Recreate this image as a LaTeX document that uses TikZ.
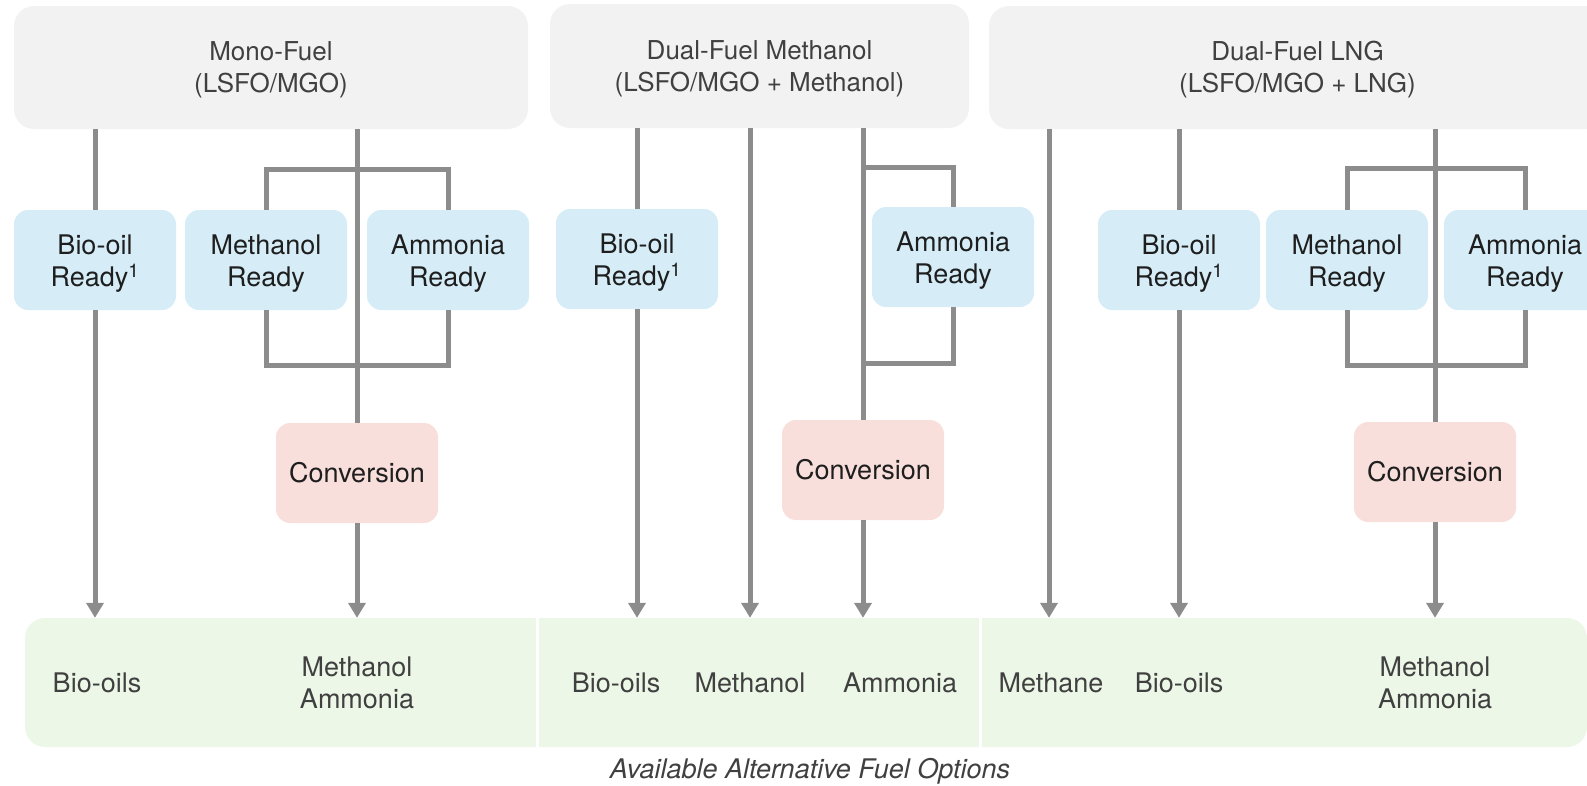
\documentclass[tikz,border=0pt]{standalone}
\usepackage{fontspec}
\setmainfont{TeX Gyre Heros}
\usetikzlibrary{arrows.meta}
\definecolor{topfill}{HTML}{F2F2F2}
\definecolor{bluefill}{HTML}{D6EDF8}
\definecolor{pinkfill}{HTML}{F9DFDB}
\definecolor{greenfill}{HTML}{ECF7E7}
\definecolor{linegray}{HTML}{8C8C8C}
\definecolor{txtdark}{HTML}{1E1E1E}
\definecolor{txtgray}{HTML}{404040}
\newcommand{\twoln}[3][0pt]{\raisebox{#1}[\height][\depth]{\begin{tabular}{@{}c@{}}#2\\#3\end{tabular}}}
\begin{document}
\begin{tikzpicture}[x=1pt,y=-1pt,
  basefont/.style={font=\fontsize{27pt}{32pt}\selectfont},
  topfont/.style={font=\fontsize{26pt}{32pt}\selectfont},
  topbox/.style={topfont, fill=topfill, rounded corners=20pt, inner sep=0pt, align=center, text=txtgray},
  readybox/.style={basefont, fill=bluefill, rounded corners=14pt, minimum width=162pt, minimum height=100pt, inner sep=0pt, align=center, text=txtdark},
  convbox/.style={basefont, fill=pinkfill, rounded corners=14pt, minimum width=162pt, minimum height=100pt, inner sep=0pt, align=center, text=txtdark},
  panel/.style={fill=greenfill, rounded corners=20pt, minimum width=1562pt, minimum height=129pt, inner sep=0pt},
  gtext/.style={basefont, align=center, text=txtgray, inner sep=0pt},
  conn/.style={draw=linegray, line width=5pt},
  arr/.style={conn, -{Triangle[width=17pt,length=15pt]}},
  sepline/.style={draw=white, line width=3pt}
]
\useasboundingbox (0,0) rectangle (1587,785);
\clip (0,0) rectangle (1587,785);

% top boxes
\node[topbox, minimum width=514pt, minimum height=123pt] (mono) at (271,67.5) {\twoln[-3pt]{Mono-Fuel}{(LSFO/MGO)}};
\node[topbox, minimum width=419pt, minimum height=124pt] (dfm) at (759.5,66) {\twoln[-3pt]{Dual-Fuel Methanol}{(LSFO/MGO + Methanol)}};
\node[topbox, minimum width=617pt, minimum height=123pt] (lng) at (1297.5,67.5) {\twoln[-3pt]{Dual-Fuel LNG}{(LSFO/MGO + LNG)}};

% ready boxes
\node[readybox] (b1) at (95,260) {\twoln[-4pt]{Bio-oil}{Ready\textsuperscript{1}}};
\node[readybox] (m1) at (266,260) {\twoln[-4pt]{Methanol}{Ready}};
\node[readybox] (a1) at (448,260) {\twoln[-4pt]{Ammonia}{Ready}};
\node[readybox] (b2) at (637,259) {\twoln[-4pt]{Bio-oil}{Ready\textsuperscript{1}}};
\node[readybox] (a2) at (953,257) {\twoln[-4pt]{Ammonia}{Ready}};
\node[readybox] (b3) at (1179,260) {\twoln[-4pt]{Bio-oil}{Ready\textsuperscript{1}}};
\node[readybox] (m3) at (1347,260) {\twoln[-4pt]{Methanol}{Ready}};
\node[readybox] (a3) at (1525,260) {\twoln[-4pt]{Ammonia}{Ready}};

% conversion boxes
\node[convbox] (c1) at (357,473) {Conversion};
\node[convbox] (c2) at (863,470) {Conversion};
\node[convbox] (c3) at (1435,472) {Conversion};

% bottom panel
\node[panel] (green) at (806,682.5) {};
\coordinate (sep1) at (537,0);
\coordinate (sep2) at (980,0);
\draw[sepline] (green.north -| sep1) -- (green.south -| sep1);
\draw[sepline] (green.north -| sep2) -- (green.south -| sep2);

\node[gtext] (g1) at (97,683) {Bio-oils};
\node[gtext] (g2) at (357,683) {Methanol\\Ammonia};
\node[gtext] (g3) at (616,683) {Bio-oils};
\node[gtext] (g4) at (750,683) {Methanol};
\node[gtext] (g5) at (900,683) {Ammonia};
\node[gtext] (g6) at (1051,683) {Methane};
\node[gtext] (g7) at (1179,683) {Bio-oils};
\node[gtext] (g8) at (1435,683) {Methanol\\Ammonia};

\node[font=\fontsize{27pt}{30pt}\selectfont\itshape, text=txtgray, anchor=base, inner sep=0pt] (cap) at (810,778) {Available Alternative Fuel Options};

% bracket levels
\coordinate (ytop1) at (0,169);
\coordinate (ybot1) at (0,365);
\coordinate (ytop2) at (0,167);
\coordinate (ybot2) at (0,363);
\coordinate (ytop3) at (0,168);
\coordinate (ybot3) at (0,365);
\coordinate (xmeth2) at (750,0);
\coordinate (xmethane) at (1049,0);

% Mono-Fuel connectors
\draw[conn] (mono.south -| b1.north) -- (b1.north);
\draw[arr] (b1.south) -- (b1.south |- green.north);
\draw[conn] (mono.south -| c1.north) -- (c1.north);
\draw[conn] (m1.north) -- (m1.north |- ytop1) -- (a1.north |- ytop1) -- (a1.north);
\draw[conn] (m1.south) -- (m1.south |- ybot1) -- (a1.south |- ybot1) -- (a1.south);
\draw[arr] (c1.south) -- (c1.south |- green.north);

% Dual-Fuel Methanol connectors
\draw[conn] (dfm.south -| b2.north) -- (b2.north);
\draw[arr] (b2.south) -- (b2.south |- green.north);
\draw[arr] (dfm.south -| xmeth2) -- (green.north -| xmeth2);
\draw[conn] (dfm.south -| c2.north) -- (c2.north);
\draw[conn] (c2.north |- ytop2) -- (a2.north |- ytop2) -- (a2.north);
\draw[conn] (a2.south) -- (a2.south |- ybot2) -- (c2.north |- ybot2);
\draw[arr] (c2.south) -- (c2.south |- green.north);

% Dual-Fuel LNG connectors
\draw[arr] (lng.south -| xmethane) -- (green.north -| xmethane);
\draw[conn] (lng.south -| b3.north) -- (b3.north);
\draw[arr] (b3.south) -- (b3.south |- green.north);
\draw[conn] (lng.south -| c3.north) -- (c3.north);
\draw[conn] (m3.north) -- (m3.north |- ytop3) -- (a3.north |- ytop3) -- (a3.north);
\draw[conn] (m3.south) -- (m3.south |- ybot3) -- (a3.south |- ybot3) -- (a3.south);
\draw[arr] (c3.south) -- (c3.south |- green.north);
\end{tikzpicture}
\end{document}
